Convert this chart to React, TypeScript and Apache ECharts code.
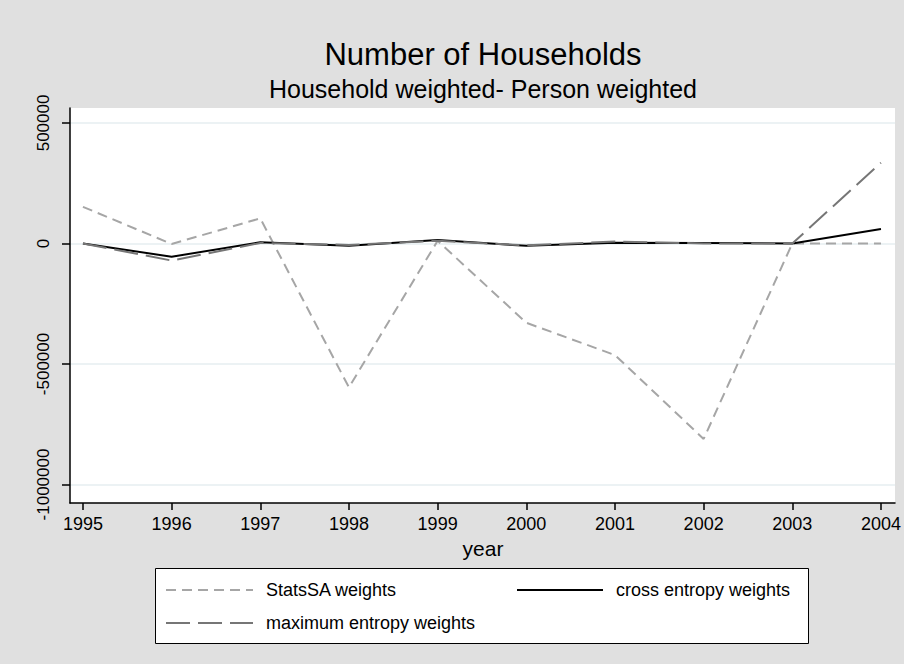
import React, { useEffect, useRef } from "react";
import * as echarts from "echarts";

const years = [1995, 1996, 1997, 1998, 1999, 2000, 2001, 2002, 2003, 2004];
const statsSA = [152000, -2000, 104000, -597000, 11000, -329000, -463000, -811000, 0, 0];
const crossEntropy = [0, -55000, 5000, -10000, 14000, -10000, 3000, 2000, 0, 60000];
const maxEntropy = [0, -71000, 2000, -6000, 11000, -8000, 8000, 0, 0, 335000];
const yTicks = [-1000000, -500000, 0, 500000];

const FONT = "'Liberation Sans', Arial, Helvetica, sans-serif";

export default function App() {
  const ref = useRef<HTMLDivElement>(null);
  useEffect(() => {
    if (!ref.current) return;
    const chart = echarts.init(ref.current, null, { renderer: "svg" });
    const pts = (arr: number[]) => years.map((y, i) => [y, arr[i]]);
    chart.setOption({
      animation: false,
      backgroundColor: "#e0e0e0",
      textStyle: { fontFamily: FONT },
      grid: {
        left: 70,
        right: 8,
        top: 108,
        bottom: 161,
        show: true,
        backgroundColor: "#ffffff",
        borderWidth: 0,
      },
      graphic: [
        {
          type: "text",
          style: {
            text: "Number of Households",
            x: 483,
            y: 54,
            textAlign: "center",
            textVerticalAlign: "middle",
            fontSize: 31,
            fontFamily: FONT,
            fill: "#000",
          },
        },
        {
          type: "text",
          style: {
            text: "Household weighted- Person weighted",
            x: 483,
            y: 89,
            textAlign: "center",
            textVerticalAlign: "middle",
            fontSize: 25,
            fontFamily: FONT,
            fill: "#000",
          },
        },
        {
          type: "text",
          style: {
            text: "year",
            x: 483,
            y: 548,
            textAlign: "center",
            textVerticalAlign: "middle",
            fontSize: 21,
            fontFamily: FONT,
            fill: "#000",
          },
        },
        {
          type: "rect",
          z: 0,
          shape: { x: 155.5, y: 568.5, width: 653, height: 75 },
          style: { fill: "#ffffff", stroke: "#000", lineWidth: 1 },
        },
      ],
      legend: [
        {
          data: ["StatsSA weights", "maximum entropy weights"],
          orient: "vertical",
          left: 165,
          top: 581,
          padding: 0,
          itemWidth: 87,
          itemHeight: 18,
          itemGap: 15,
          z: 5,
          itemStyle: { opacity: 0 },
          textStyle: { fontSize: 18, color: "#000", fontFamily: FONT, padding: [0, 0, 0, 8] },
        },
        {
          data: ["cross entropy weights"],
          orient: "vertical",
          left: 516,
          top: 581,
          padding: 0,
          itemWidth: 86,
          itemHeight: 18,
          z: 5,
          itemStyle: { opacity: 0 },
          textStyle: { fontSize: 18, color: "#000", fontFamily: FONT, padding: [0, 0, 0, 8] },
        },
      ],
      xAxis: {
        type: "value",
        min: 1994.854,
        max: 2004.158,
        axisLine: { show: true, onZero: false, lineStyle: { color: "#000", width: 1.5 } },
        axisTick: { show: true, length: 7, customValues: years, lineStyle: { color: "#000", width: 1.5 } },
        axisLabel: {
          customValues: years,
          fontSize: 18,
          color: "#000",
          margin: 12,
          fontFamily: FONT,
          formatter: (v: number) => String(Math.round(v)),
        },
        splitLine: { show: false },
      },
      yAxis: {
        type: "value",
        min: -1076800,
        max: 562000,
        axisLine: { show: true, onZero: false, lineStyle: { color: "#000", width: 1.5 } },
        axisTick: { show: true, length: 8, customValues: yTicks, lineStyle: { color: "#000", width: 1.5 } },
        axisLabel: {
          customValues: yTicks,
          rotate: 90,
          fontSize: 17,
          color: "#000",
          margin: 18,
          fontFamily: FONT,
          formatter: (v: number) => String(Math.round(v)),
        },
        splitLine: { show: true, lineStyle: { color: "#e6eef0", width: 1.5 } },
      },
      series: [
        {
          name: "StatsSA weights",
          type: "line",
          data: pts(statsSA),
          symbol: "none",
          lineStyle: { color: "#a6a6a6", width: 2, type: [10, 6] },
          itemStyle: { color: "#a6a6a6" },
          z: 2,
        },
        {
          name: "cross entropy weights",
          type: "line",
          data: pts(crossEntropy),
          symbol: "none",
          lineStyle: { color: "#000000", width: 2, type: "solid" },
          itemStyle: { color: "#000000" },
          z: 3,
        },
        {
          name: "maximum entropy weights",
          type: "line",
          data: pts(maxEntropy),
          symbol: "none",
          lineStyle: { color: "#767676", width: 2, type: [24, 8] },
          itemStyle: { color: "#767676" },
          z: 4,
        },
      ],
    });
    return () => chart.dispose();
  }, []);
  return (
    <div
      ref={ref}
      style={{ position: "fixed", left: 0, top: 0, width: 904, height: 664 }}
    />
  );
}
